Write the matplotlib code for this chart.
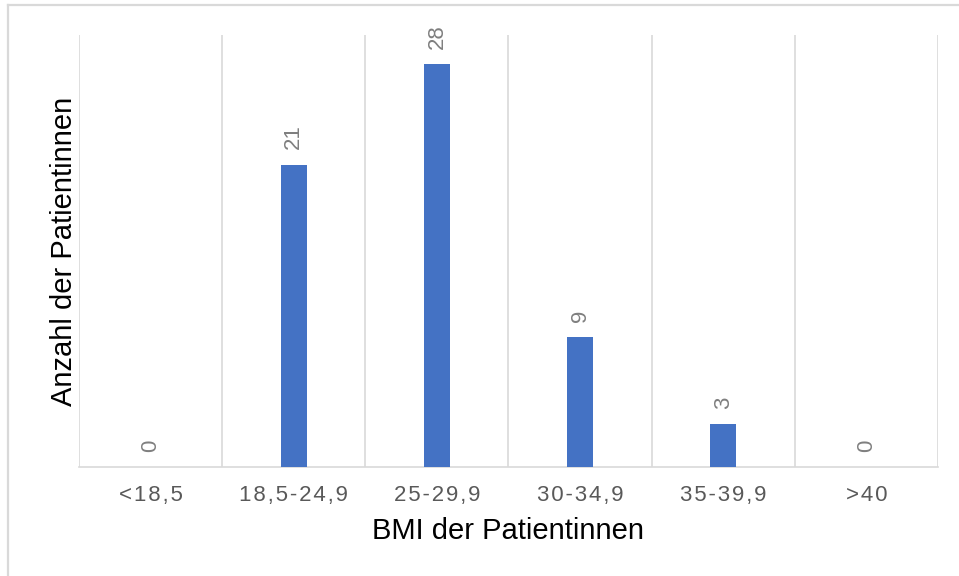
import matplotlib
matplotlib.use("Agg")
import matplotlib.pyplot as plt
from matplotlib.lines import Line2D
import numpy as np

categories = ["<18,5", "18,5-24,9", "25-29,9", "30-34,9", "35-39,9", ">40"]
patients = [0, 21, 28, 9, 3, 0]
x_title = "BMI der Patientinnen"
y_title = "Anzahl der Patientinnen"

BAR = "#4472C4"
GRID = "#d9d9d9"
FONT = ["Liberation Sans", "DejaVu Sans"]
SP = "\u200A"  # hair space used as letter spacing in tick labels

plt.rcParams["font.family"] = FONT

fig = plt.figure(figsize=(9.59, 5.76), dpi=100)
W, H = 959, 576
ax = fig.add_axes([79 / W, (H - 467) / H, (938 - 79) / W, (467 - 35) / H])

x = np.arange(len(categories))
bars = ax.bar(x, patients, width=0.18, color=BAR, zorder=3)

for xi, v in zip(x, patients):
    ax.annotate(str(v), (xi, v), xytext=(0, 11), textcoords="offset points",
                rotation=90, ha="center", va="bottom", fontsize=16,
                color="#7f7f7f")

ax.set_xlim(-0.5, len(categories) - 0.5)
ax.set_ylim(0, 30)
ax.set_yticks([])
ax.set_xticks(x)
ax.set_xticklabels([SP.join(c) for c in categories], fontsize=16, color="#595959")
ax.set_xticks(np.arange(-0.5, len(categories)), minor=True)
ax.tick_params(axis="x", which="both", length=0, pad=13)
ax.grid(axis="x", which="minor", color=GRID, linewidth=1.2, zorder=0)
ax.grid(axis="x", which="major", visible=False)

for s in ["left", "right", "top"]:
    ax.spines[s].set_visible(False)
ax.spines["bottom"].set_color(GRID)
ax.spines["bottom"].set_linewidth(1.2)

ax.set_xlabel(x_title, fontsize=21, color="black", labelpad=8)
ax.set_ylabel(y_title, fontsize=21, color="black", labelpad=1)

# outer chart frame (left and top edges)
fig.add_artist(Line2D([7.5 / W, 7.5 / W], [0, 1 - 4.5 / H], transform=fig.transFigure,
                      color=GRID, linewidth=1.6))
fig.add_artist(Line2D([7.5 / W, 1], [1 - 4.5 / H, 1 - 4.5 / H], transform=fig.transFigure,
                      color=GRID, linewidth=1.6))

fig.savefig("out.png", dpi=100)
